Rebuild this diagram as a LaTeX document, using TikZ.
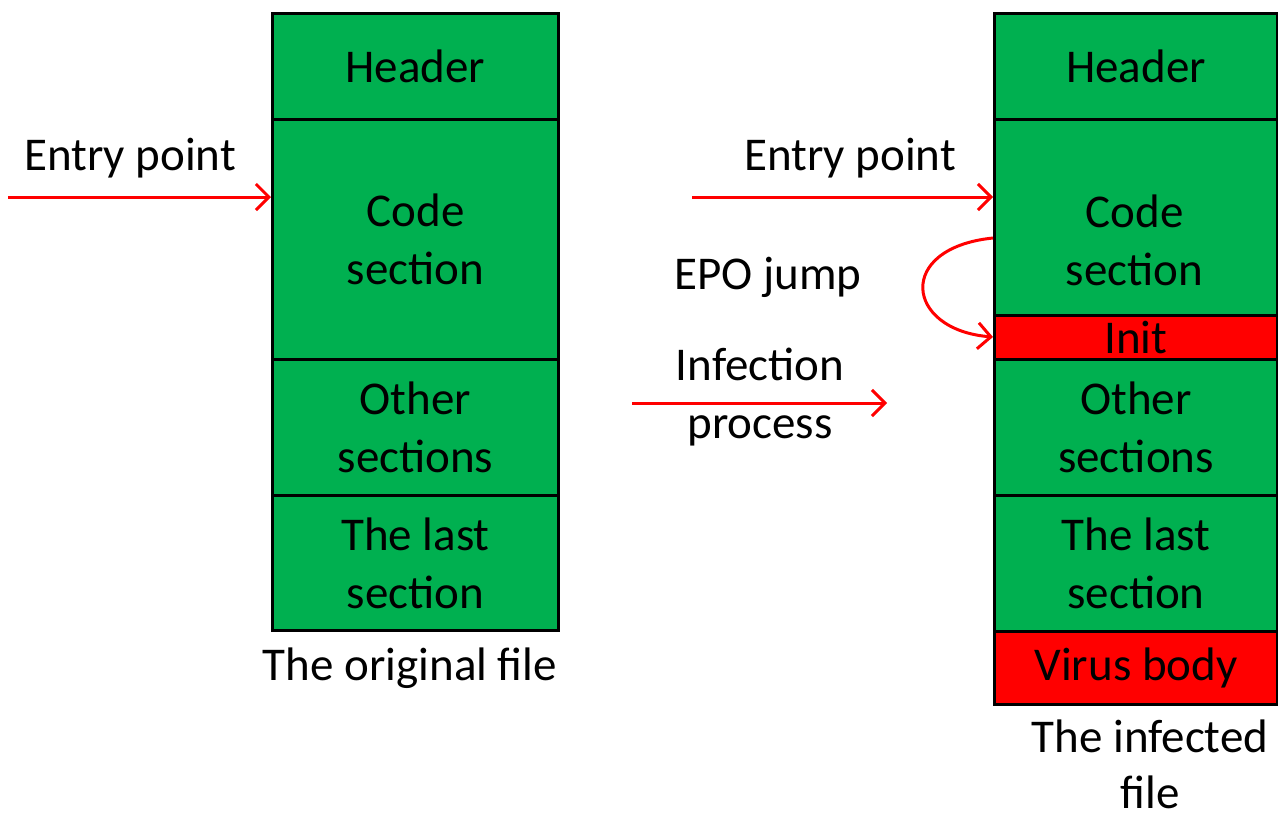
\documentclass[tikz,border=0pt]{standalone}
\usepackage{fontspec}
\setmainfont{Carlito}
\usetikzlibrary{arrows.meta}
\definecolor{secgreen}{HTML}{00B050}
\definecolor{virusred}{HTML}{FF0000}
\begin{document}
\begin{tikzpicture}[x=1pt,y=-1pt,
  sect/.style={draw=black, line width=3pt, inner sep=0pt, align=center,
    font=\fontsize{47}{58}\selectfont, anchor=north west},
  good/.style={sect, fill=secgreen},
  bad/.style={sect, fill=virusred},
  lbl/.style={font=\fontsize{47}{58}\selectfont, align=center, inner sep=0pt},
  flow/.style={draw=virusred, line width=3pt,
    -{Straight Barb[length=13pt,width=26pt,line width=3pt]}}]
\useasboundingbox (0,0) rectangle (1278,817);

% the original file
\node[good, minimum width=286pt, minimum height=106pt] (lhead) at (271,12) {Header};
\node[good, minimum width=286pt, minimum height=240pt] (lcode) at (271,118) {Code\\section};
\node[good, minimum width=286pt, minimum height=136pt] (lother) at (271,358) {Other\\sections};
\node[good, minimum width=286pt, minimum height=135pt] (llast) at (271,494) {The last\\section};
\node[lbl] (lcap) at (410,668) {The original file};

% the infected file
\node[good, minimum width=283pt, minimum height=106pt] (rhead) at (993,12) {Header};
\node[good, minimum width=283pt, minimum height=196pt] (rcode) at (993,118) {};
\node[lbl] (rcodetxt) at (1134.5,240) {Code\\section};
\node[bad, minimum width=283pt, minimum height=44pt] (rinit) at (993,314) {Init};
\node[good, minimum width=283pt, minimum height=136pt] (rother) at (993,358) {Other\\sections};
\node[good, minimum width=283pt, minimum height=136pt] (rlast) at (993,494) {The last\\section};
\node[bad, minimum width=283pt, minimum height=73pt] (rvirus) at (993,630) {Virus body};
\node[lbl, font=\fontsize{47}{56}\selectfont] (rcap) at (1150,764) {The infected\\file};

% labels
\node[lbl] (lentry) at (130,158) {Entry point};
\node[lbl] (rentry) at (850,158) {Entry point};
\node[lbl] (epo) at (768,277) {EPO jump};
\node[lbl] (infect) at (760,397) {Infection\\process};

% arrows
\coordinate (lstart) at (8,197);
\coordinate (rstart) at (692,197);
\coordinate (istart) at (632,403);
\coordinate (iend) at (887,403);
\coordinate (jstart) at (993,238);
\coordinate (jend) at (993,337);
\draw[flow] (lstart) -- (lstart -| lcode.west);
\draw[flow] (rstart) -- (rstart -| rcode.west);
\draw[flow] (istart) -- (iend);
\draw[flow] (jstart) .. controls (895,248) and (905,330) .. (jend);
\end{tikzpicture}
\end{document}
